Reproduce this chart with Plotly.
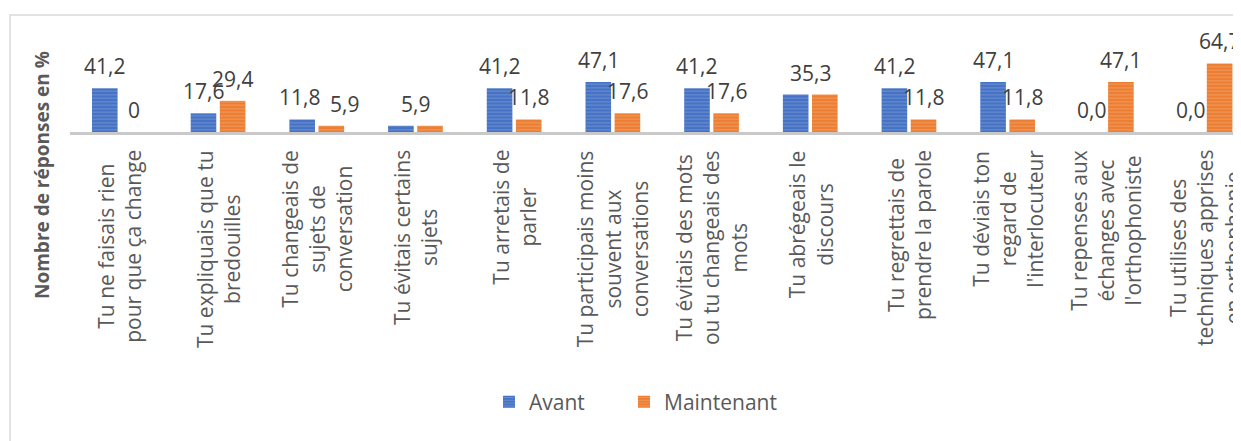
import plotly.graph_objects as go

categories = [
    "Tu ne faisais rien<br>pour que ça change",
    "Tu expliquais que tu<br>bredouilles",
    "Tu changeais de<br>sujets de<br>conversation",
    "Tu évitais certains<br>sujets",
    "Tu arretais de<br>parler",
    "Tu participais moins<br>souvent aux<br>conversations",
    "Tu évitais des mots<br>ou tu changeais des<br>mots",
    "Tu abrégeais le<br>discours",
    "Tu regrettais de<br>prendre la parole",
    "Tu déviais ton<br>regard de<br>l'interlocuteur",
    "Tu repenses aux<br>échanges avec<br>l'orthophoniste",
    "Tu utilises des<br>techniques apprises<br>en orthophonie",
]
avant = [41.2, 17.6, 11.8, 5.9, 41.2, 47.1, 41.2, 35.3, 41.2, 47.1, 0.0, 0.0]
maintenant = [0, 29.4, 5.9, 5.9, 11.8, 17.6, 17.6, 35.3, 11.8, 11.8, 47.1, 64.7]
avant_labels = ["41,2", "17,6", "11,8", "5,9", "41,2", "47,1", "41,2", "35,3", "41,2", "47,1", "0,0", "0,0"]
maint_labels = ["0", "29,4", "5,9", "5,9", "11,8", "17,6", "17,6", "35,3", "11,8", "11,8", "47,1", "64,7"]
series_names = ["Avant", "Maintenant"]

BLUE = "#4472C4"
ORANGE = "#ED7D31"
TXT = "#595959"
LBL = "#404040"
FONT = "Open Sans"

# the page body has an 8px margin: lay the figure out so that it lands on the 1241x441 view
OFF = 8
W, H = 1241 - OFF, 441 - OFF
ML, MT, MB = 70 - OFF, 30 - OFF, 20
PW = W - ML
PAPER_H = H - MT - MB
BASE = 132 - OFF          # pixel row of the category axis
PH = BASE - MT
px_per_unit = 1.06
CAT_PX = 98.7


def py(pix):
    """view pixel row -> paper y"""
    return (H - MB - (pix - OFF)) / PAPER_H


def px(pix):
    return (pix - OFF - ML) / PW


x = list(range(len(categories)))
BARGAP = 0.41
slot = (1 - BARGAP) / 2

fig = go.Figure()
for name, vals, col, leg in [(series_names[0], avant, BLUE, "legend"),
                             (series_names[1], maintenant, ORANGE, "legend2")]:
    fig.add_trace(go.Bar(
        x=x, y=vals, name=name, legend=leg,
        marker=dict(color=col, line=dict(width=0),
                    pattern=dict(shape="-", fgcolor="rgba(255,255,255,0.55)", size=3.5, solidity=0.25)),
        hoverinfo="skip",
    ))

lab_font = dict(family=FONT, size=21, color=LBL)
annotations = []
# data labels
for i in x:
    if avant[i] == maintenant[i]:
        annotations.append(dict(x=i, y=avant[i], xref="x", yref="y", text=maint_labels[i],
                                showarrow=False, yanchor="middle", yshift=22, font=lab_font))
        continue
    close = abs(avant[i] - maintenant[i]) * px_per_unit < 10
    annotations.append(dict(x=i - slot / 2, y=avant[i], xref="x", yref="y", text=avant_labels[i],
                            showarrow=False, yanchor="middle", yshift=22,
                            xshift=-3 if close else 0, font=lab_font))
    annotations.append(dict(x=i + slot / 2, y=maintenant[i], xref="x", yref="y", text=maint_labels[i],
                            showarrow=False, yanchor="middle", yshift=22,
                            xshift=13 if close else 0, font=lab_font))
# category labels
for i, c in zip(x, categories):
    annotations.append(dict(x=i, y=0, xref="x", yref="y", text=c, textangle=-90,
                            showarrow=False, yanchor="top", xanchor="center", align="center",
                            yshift=-16, font=dict(family=FONT, size=21, color=TXT)))
# y-axis title
annotations.append(dict(x=px(42), y=py(175), xref="paper", yref="paper",
                        text="<b>Nombre de réponses en %</b>", textangle=-90, showarrow=False,
                        xanchor="center", yanchor="middle",
                        font=dict(family=FONT, size=19, color=TXT)))

leg_common = dict(orientation="h", xanchor="left", yanchor="middle", y=py(402),
                  font=dict(family=FONT, size=21, color=TXT), itemwidth=30,
                  bgcolor="rgba(0,0,0,0)")

fig.update_layout(
    width=W, height=H,
    margin=dict(l=ML, r=0, t=MT, b=MB, pad=0, autoexpand=False),
    paper_bgcolor="white", plot_bgcolor="white",
    barmode="group", bargap=BARGAP, bargroupgap=0.12,
    font=dict(family=FONT, color=TXT),
    xaxis=dict(range=[-0.5, -0.5 + PW / CAT_PX], showticklabels=False, ticks="", showgrid=False,
               zeroline=False, showline=True, linecolor="#c9c9c9", linewidth=3, fixedrange=True,
               anchor="y"),
    yaxis=dict(domain=[py(BASE + OFF), 1], range=[0, PH / px_per_unit], visible=False,
               showgrid=False, zeroline=False),
    showlegend=True,
    legend=dict(x=px(489), **leg_common),
    legend2=dict(x=px(624), **leg_common),
    annotations=annotations,
    shapes=[dict(type="rect", xref="paper", yref="paper",
                 x0=px(10), x1=1.5, y0=-1, y1=py(15),
                 line=dict(color="#d9d9d9", width=1.5), fillcolor="rgba(0,0,0,0)", layer="below")],
)

fig.write_html("out.html")
